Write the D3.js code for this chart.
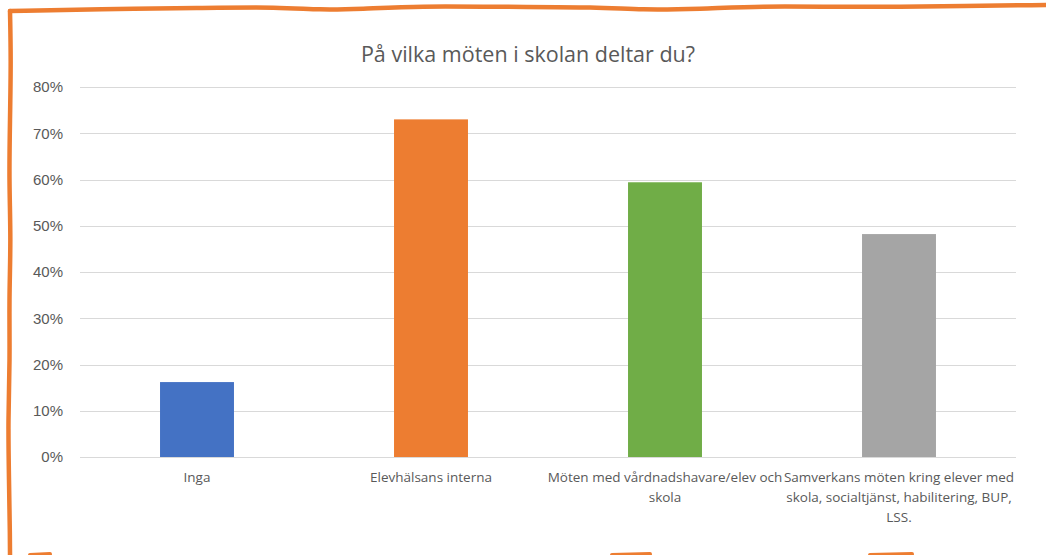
<!DOCTYPE html>
<html>
<head>
<meta charset="utf-8">
<script src="https://cdn.jsdelivr.net/npm/d3@7"></script>
<style>
  body { margin: 0; background: #fff; }
  svg { display: block; font-family: "Liberation Sans Narrow", "Open Sans", sans-serif; }
</style>
</head>
<body>
<svg id="chart"></svg>
<script>
// Data
const categories = [
  "Inga",
  "Elevhälsans interna",
  "Möten med vårdnadshavare/elev och\nskola",
  "Samverkans möten kring elever med\nskola, socialtjänst, habilitering, BUP,\nLSS."
];
const values = [0.162, 0.730, 0.594, 0.482];
const colors = ["#4472C4", "#ED7D31", "#70AD47", "#A5A5A5"];
const yTicks = [0, 0.1, 0.2, 0.3, 0.4, 0.5, 0.6, 0.7, 0.8];
const title = "På vilka möten i skolan deltar du?";

var width = 1046;
var height = 555;
var margin = {top: 87, right: 30, bottom: 98, left: 80};

var svg = d3.select('#chart')
    .attr("width", width)
    .attr("height", height);

var x = d3.scaleBand()
    .domain(categories)
    .range([margin.left, width - margin.right])
    .paddingInner(0.684)
    .paddingOuter(0.342);

var y = d3.scaleLinear()
    .domain([0, 0.8])
    .range([height - margin.bottom, margin.top]);

// gridlines
svg.append("g")
    .selectAll("line")
    .data(yTicks)
    .join("line")
    .attr("x1", margin.left)
    .attr("x2", width - margin.right)
    .attr("y1", d => Math.round(y(d)) + 0.5)
    .attr("y2", d => Math.round(y(d)) + 0.5)
    .attr("stroke", "#d9d9d9")
    .attr("stroke-width", 1);

// y axis labels
var yAxis = d3.axisLeft(y)
    .tickValues(yTicks)
    .tickFormat(d3.format(".0%"))
    .tickSize(0)
    .tickPadding(0);
var gy = svg.append("g")
    .attr("transform", "translate(63,0)")
    .call(yAxis);
gy.select(".domain").remove();
gy.selectAll("text")
    .attr("fill", "#595959")
    .style("font-size", "15px");

// bars
svg.append("g")
    .selectAll("rect")
    .data(values)
    .join("rect")
    .attr("x", (d, i) => x(categories[i]))
    .attr("width", x.bandwidth())
    .attr("y", d => y(d))
    .attr("height", d => y(0) - y(d))
    .attr("fill", (d, i) => colors[i]);

// category labels
var labels = svg.append("g")
    .selectAll("text")
    .data(categories)
    .join("text")
    .attr("x", d => x(d) + x.bandwidth() / 2)
    .attr("y", height - margin.bottom + 25)
    .attr("text-anchor", "middle")
    .attr("fill", "#595959")
    .style("font-size", "13.5px");
labels.each(function(d) {
    var t = d3.select(this);
    d.split("\n").forEach((line, i) => {
        t.append("tspan")
            .attr("x", x(d) + x.bandwidth() / 2)
            .attr("dy", i === 0 ? 0 : 20)
            .text(line);
    });
});

// title
svg.append("text")
    .attr("x", 528)
    .attr("y", 62)
    .attr("text-anchor", "middle")
    .attr("fill", "#595959")
    .style("font-family", "'Open Sans', sans-serif")
    .style("font-size", "21.5px")
    .text(title);

// hand drawn orange frame
var frame = d3.line().curve(d3.curveBasis);
var topEdge = [[10, 11], [100, 9], [200, 8], [280, 7], [320, 10], [360, 9], [420, 6], [500, 7], [600, 7], [640, 10], [700, 9], [760, 6], [840, 7], [900, 7], [960, 6], [1046, 5]];
var leftEdge = [[10, 11], [11, 60], [10, 120], [9, 180], [11, 240], [9, 300], [10, 360], [8, 420], [9, 480], [10, 540], [10, 555]];
svg.append("path")
    .attr("d", frame(topEdge))
    .attr("fill", "none")
    .attr("stroke", "#ED7D31")
    .attr("stroke-width", 4.5)
    .attr("stroke-linecap", "round");
svg.append("path")
    .attr("d", frame(leftEdge))
    .attr("fill", "none")
    .attr("stroke", "#ED7D31")
    .attr("stroke-width", 4.5)
    .attr("stroke-linecap", "round");
// bits of the bottom edge that peek in
[[30, 50], [612, 650], [870, 912]].forEach(s => {
    svg.append("line")
        .attr("x1", s[0]).attr("x2", s[1])
        .attr("y1", 555).attr("y2", 554)
        .attr("stroke", "#ED7D31")
        .attr("stroke-width", 4)
        .attr("stroke-linecap", "round");
});
</script>
</body>
</html>
